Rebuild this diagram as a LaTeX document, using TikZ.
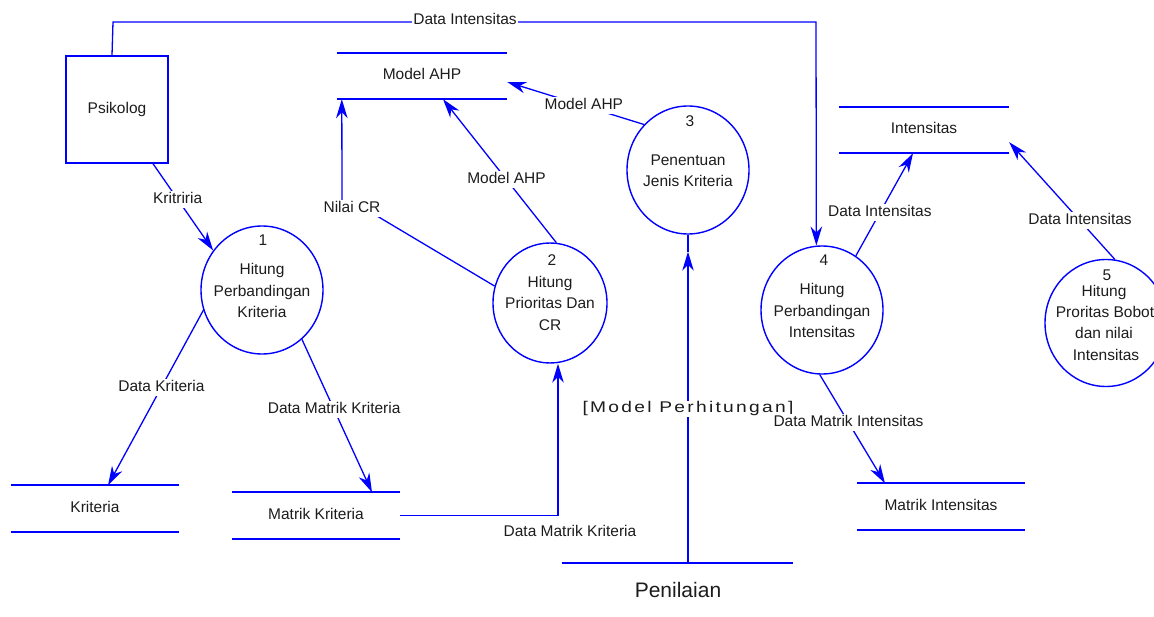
\documentclass[tikz,border=0pt]{standalone}
\usepackage{fontspec}
\setmainfont{Liberation Sans}
\newfontfamily\widefont[LetterSpace=12]{Liberation Sans}
\usetikzlibrary{arrows.meta,shapes.geometric}
\definecolor{dfdblue}{RGB}{0,0,255}
\definecolor{dfdtext}{RGB}{28,28,28}
\begin{document}
\begin{tikzpicture}[x=1pt,y=-1pt,
  every node/.style={font=\fontsize{15.5}{18}\selectfont, text=dfdtext,
    inner sep=1pt, text height=11.5pt, text depth=3.5pt},
  proc/.style={ellipse, draw=dfdblue, line width=1.4pt, inner sep=0pt,
    minimum width=122pt, minimum height=128pt},
  entity/.style={rectangle, draw=dfdblue, line width=1.4pt, inner sep=0pt,
    minimum width=102pt, minimum height=107pt},
  store/.style={minimum width=#1, minimum height=46pt, inner sep=0pt},
  storeline/.style={draw=dfdblue, line width=1.8pt},
  plainflow/.style={draw=dfdblue, line width=1.3pt},
  flow/.style={plainflow, -{Stealth[length=19pt,width=11.5pt,inset=6pt]}},
  flowlbl/.style={fill=white, inner sep=1pt},
]
\useasboundingbox (0,0) rectangle (1154,617);
\clip (0,0) rectangle (1154,617);

% external entity
\node[entity] (psi) at (117,109.5) {Psikolog};

% processes
\node[proc] (p1) at (262,290) {};
\node (p1n) at (263,242) {1};
\node (p1a) at (262,271) {Hitung};
\node (p1b) at (262,293) {Perbandingan};
\node (p1c) at (262,314) {Kriteria};

\node[proc, minimum width=114pt, minimum height=120pt] (p2) at (550,303) {};
\node (p2n) at (552,262) {2};
\node (p2a) at (550,284) {Hitung};
\node (p2b) at (550,305) {Prioritas Dan};
\node (p2c) at (550,327) {CR};

\node[proc] (p3) at (688,170) {};
\node (p3n) at (690,123) {3};
\node (p3a) at (688,162) {Penentuan};
\node (p3b) at (688,183) {Jenis Kriteria};

\node[proc] (p4) at (822,310) {};
\node (p4n) at (824,262) {4};
\node (p4a) at (822,291) {Hitung};
\node (p4b) at (822,313) {Perbandingan};
\node (p4c) at (822,334) {Intensitas};

\node[proc, minimum height=127pt] (p5) at (1106,323) {};
\node (p5n) at (1107,277) {5};
\node (p5a) at (1104,293) {Hitung};
\node (p5b) at (1105,314) {Proritas Bobot};
\node (p5c) at (1104,335) {dan nilai};
\node (p5d) at (1106,357) {Intensitas};

% data stores
\node[store=170pt] (ahp) at (422,76) {Model AHP};
\node[store=170pt] (int) at (924,130) {Intensitas};
\node[store=168pt] (krit) at (95,508.5) {Kriteria};
\node[store=168pt] (mk) at (316,515.5) {Matrik Kriteria};
\node[store=168pt] (mi) at (941,506.5) {Matrik Intensitas};
\foreach \s in {ahp,int,krit,mk,mi}
  \draw[storeline] (\s.north west) -- (\s.north east)
                   (\s.south west) -- (\s.south east);

% Penilaian
\node[minimum width=231pt, inner sep=0pt, text height=0pt, text depth=0pt] (pen) at (677.5,563) {};
\draw[storeline] (pen.west) -- (pen.east);
\node[font=\fontsize{21}{24}\selectfont, text height=15pt, text depth=5pt] (penl) at (678,592) {Penilaian};

% flows
\coordinate (di1) at (113,22);
\coordinate (di2) at (816,22);
\draw[flow] ([xshift=-5pt]psi.north) -- (di1) -- (di2) -- (p4.95);
\node[flowlbl] (lDI) at (465,21) {Data Intensitas};

\draw[flow] ([xshift=36pt]psi.south) -- node[flowlbl,pos=0.41] (lKr) {Kritriria} (p1.141);
\draw[flow] (p1.199) -- node[flowlbl,pos=0.44] (lDK) {Data Kriteria} ([xshift=13pt]krit.north);
\draw[flow] (p1.309) -- node[flowlbl,pos=0.46] (lDMK) {Data Matrik Kriteria} ([xshift=56pt]mk.north);

\draw[flow] (mk.east) -| ([xshift=8pt]p2.south);
\node (lDMK2) at (570,532) {Data Matrik Kriteria};

\coordinate (ncr1) at (377,216);
\coordinate (ncr2) at (342,204);
\draw[flow] (p2.163) -- (ncr1) -- (ncr2) -- ([xshift=5pt]ahp.south west);
\node[flowlbl] (lNCR) at (352,209) {Nilai CR};

\draw[flow] (p2.84) -- node[flowlbl,pos=0.44] (lMA1) {Model AHP} ([xshift=21pt]ahp.south);
\draw[flow] (p3.134) -- node[flowlbl,pos=0.44] (lMA2) {Model AHP} ([yshift=-6pt]ahp.east);

% the Penilaian flow: head stops short of the process, stem runs on to it
\coordinate (pentip) at ([yshift=-17pt]p3.south);
\draw[flow] (p3.south |- pen.center) -- (pentip);
\draw[plainflow] (pentip) -- (p3.south);
\node[flowlbl, text height=11pt, text depth=3pt] (lMP) at (688,409)
  {\resizebox{211pt}{\height}{\widefont [Model Perhitungan]}};

\draw[flow] (p4.58) -- node[flowlbl,pos=0.42] (lDI2) {Data Intensitas} ([xshift=-11pt]int.south);
\draw[flow] (p5.82) -- node[flowlbl,pos=0.33] (lDI3) {Data Intensitas} ([yshift=11pt]int.south east);
\draw[flow] (p4.268) -- node[flowlbl,pos=0.44] (lDMI) {Data Matrik Intensitas} ([xshift=-56pt]mi.north);
\end{tikzpicture}
\end{document}
